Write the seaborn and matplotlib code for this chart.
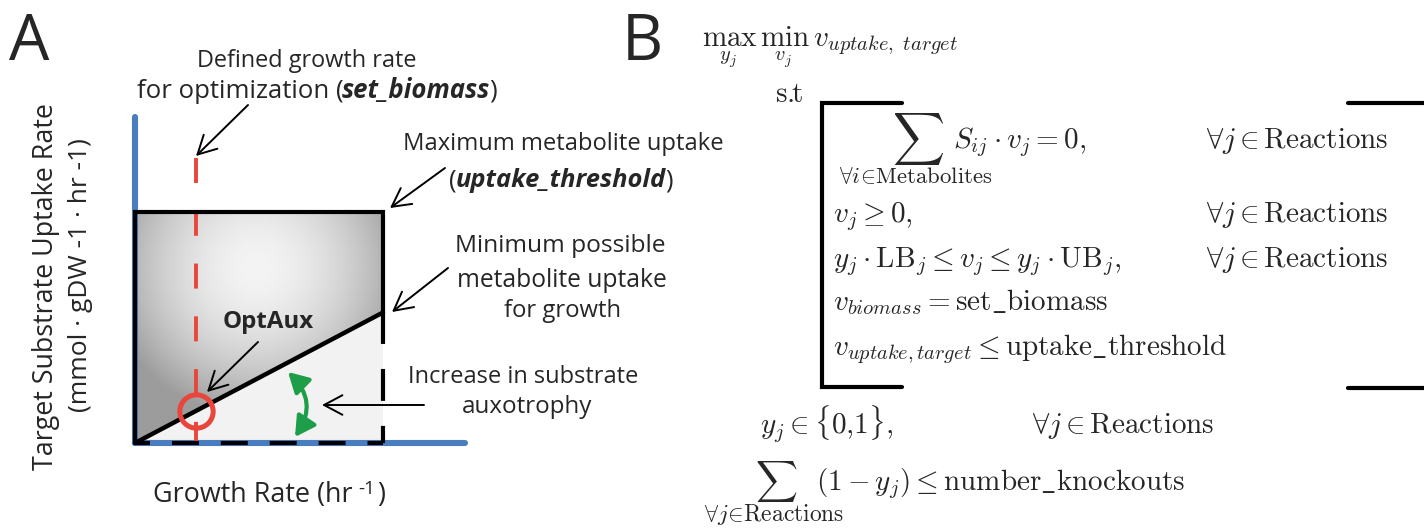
import numpy as np
import matplotlib
matplotlib.use("Agg")
import matplotlib.pyplot as plt
import seaborn as sns
from matplotlib.patches import Polygon

# ---------------- data (normalised units of panel A) ----------------
growth_rate = [0.0, 1.0]        # growth rate range (0 .. maximum growth)
min_uptake = [0.0, 0.565]       # minimum possible metabolite uptake for growth
uptake_threshold = 1.0          # maximum metabolite uptake (uptake_threshold)
set_biomass = 0.245             # defined growth rate for optimization
axis_len_x = 1.33               # drawn length of growth-rate axis
axis_len_y = 1.41               # drawn length of uptake axis
set_line_top = 1.234            # top of the set_biomass guide line

# ---------------- style ----------------
sns.set_theme(style="white")
plt.rcParams["font.family"] = ["Open Sans", "DejaVu Sans"]
plt.rcParams["mathtext.fontset"] = "cm"
plt.rcParams["lines.scale_dashes"] = False

BLUE = "#4a7dbd"
RED = "#e8463c"
GREEN = "#1f9e4a"

W, H = 1424, 529
fig = plt.figure(figsize=(W / 100, H / 100), dpi=100)
fig.patch.set_facecolor("white")
R = fig.canvas.get_renderer()

# panel A axes: data units, placed so the box sits where it does in the figure
PX0, PY0, SX, SY = 135, 443, 248, 231
ax = fig.add_axes([0, 0, 1, 1])
ax.axis("off")

# overlay in pixel units for annotation layout
ov = fig.add_axes([0, 0, 1, 1], facecolor="none")
ov.set_xlim(0, W)
ov.set_ylim(H, 0)
ov.axis("off")

g0, g1 = growth_rate
m0, m1 = min_uptake

# ---- feasible region fills ----
upper = [(g0, m0), (g1, m1), (g1, uptake_threshold), (g0, uptake_threshold)]
lower = [(g0, m0), (g1, 0.0), (g1, m1)]
ax.add_patch(Polygon(lower, closed=True, facecolor="#f2f2f2", edgecolor="none", zorder=1))

xs = np.linspace(g0, g1, 300)
ys = np.linspace(0, uptake_threshold, 300)
X, Y = np.meshgrid(xs, ys)
r = np.hypot((X - 0.49) * SX, (Y - 0.76) * SY)
val = np.clip(0.955 - 0.30 * (r / 140.0) ** 1.8, 0.61, 1.0)
im = ax.imshow(val, extent=[g0, g1, 0, uptake_threshold], origin="lower", cmap="gray",
               vmin=0, vmax=1, aspect="auto", interpolation="bilinear", zorder=1)
clip = Polygon(upper, closed=True, facecolor="none", edgecolor="none", transform=ax.transData)
ax.add_patch(clip)
im.set_clip_path(clip)

# ---- axes (blue) ----
ax.plot([0, 0], [0, axis_len_y], color=BLUE, lw=4.4, solid_capstyle="round", zorder=2)
ax.plot([0, axis_len_x], [0, 0], color=BLUE, lw=4.4, solid_capstyle="round", zorder=2)

# ---- set_biomass guide (red dashed) ----
ax.plot([set_biomass, set_biomass], [set_line_top, 0], color=RED, lw=2.8,
        ls=(0, (18, 20)), zorder=3)

# ---- box ----
ax.plot([g1, g1, g0, g0], [m1, uptake_threshold, uptake_threshold, 0], color="black",
        lw=3.0, solid_joinstyle="miter", zorder=4)
ax.plot([g1, g1], [m1, 0], color="black", lw=3.0, ls=(0, (23, 18)), zorder=4)
ax.plot([g0, g1], [0, 0], color="black", lw=3.0, ls=(8.6, (19.4, 15.8)), zorder=4)

# ---- minimum uptake line ----
sns.lineplot(x=growth_rate, y=min_uptake, ax=ax, color="black", lw=3.2, zorder=5)

# ---- OptAux point ----
opt_y = np.interp(set_biomass, growth_rate, min_uptake)
ax.plot([set_biomass], [opt_y], marker="o", ms=24, mfc="none", mec=RED, mew=3.6, zorder=6)

ax.set_xlim(-PX0 / SX, (W - PX0) / SX)
ax.set_ylim(-(H - PY0) / SY, PY0 / SY)
ax.axis("off")

# ---------------- text helpers ----------------
def fit_text(x, y, s, width, ha="center", va="baseline", rotation=0, **kw):
    t = ov.text(x, y, s, fontsize=20, ha=ha, va=va, rotation=rotation, **kw)
    bb = t.get_window_extent(renderer=R)
    L = bb.height if rotation == 90 else bb.width
    t.set_fontsize(20 * width / L)
    return t


def rich_text(xc, y, parts, width):
    base = 20.0
    ws = []
    for s, kw, sf, gap, rz in parts:
        t = ov.text(0, 0, s, fontsize=base * sf, **kw)
        ws.append(t.get_window_extent(renderer=R).width)
        t.remove()
    total = sum(ws) + sum(p[3] for p in parts)
    sc = width / total
    x = xc - width / 2
    for (s, kw, sf, gap, rz), w in zip(parts, ws):
        x += gap * sc
        ov.text(x, y - rz * sc, s, fontsize=base * sf * sc, ha="left", va="baseline", **kw)
        x += w * sc


N = {}
BI = {"fontweight": "bold", "fontstyle": "italic"}

# ---------------- panel A text ----------------
ov.text(9, 60, "A", fontsize=46, ha="left", va="baseline")
fit_text(307, 67, "Defined growth rate", 219)
rich_text(317, 98, [("for optimization (", N, 1, 0, 0), ("set_biomass", BI, 1, -1.5, 0),
                    (")", N, 1, -0.5, 0)], 360)
fit_text(563, 150, "Maximum metabolite uptake", 320)
rich_text(561, 187, [("(", N, 1, 0, 0), ("uptake_threshold", BI, 1, -1.5, 0),
                     (")", N, 1, -0.5, 0)], 223)
fit_text(560, 252, "Minimum possible", 210)
fit_text(562, 287, "metabolite uptake", 209)
fit_text(563, 317, "for growth", 117)
fit_text(268, 328, "OptAux", 91, fontweight="bold")
fit_text(523, 383, "Increase in substrate", 230)
fit_text(527, 413, "auxotrophy", 130)
rich_text(269, 502, [("Growth Rate (hr", N, 1, 0, 0), ("-1", N, 0.7, 5, 8),
                     (")", N, 1, 2, 0)], 232)
fit_text(46, 287, "Target Substrate Uptake Rate", 367, va="center", rotation=90)
fit_text(81, 275, "(mmol \u00b7 gDW -1 \u00b7 hr -1)", 274, va="center", rotation=90)

# arrows
AP = dict(arrowstyle="->,head_length=0.6,head_width=0.32", lw=1.4, color="black",
          mutation_scale=22, shrinkA=0, shrinkB=0)
for tail, head in [((248, 105), (196, 156)), ((445, 168), (390, 208)),
                   ((448, 268), (392, 312)), ((258, 342), (207, 392)),
                   ((424, 405), (322, 405))]:
    ov.annotate("", xy=head, xytext=tail, arrowprops=AP, zorder=7)

ov.annotate("", xy=(295, 437), xytext=(288, 372),
            arrowprops=dict(arrowstyle="<|-|>,head_length=0.5,head_width=0.28",
                            connectionstyle="arc3,rad=-0.42", lw=3.0, color=GREEN,
                            mutation_scale=24, shrinkA=0, shrinkB=0), zorder=7)

# ---------------- panel B ----------------
ov.text(622, 60, "B", fontsize=46, ha="left", va="baseline")
FS = 21
ov.text(702, 47, r"$\max_{y_j}\,\min_{v_j}\,v_{uptake,\ target}$", fontsize=FS,
        ha="left", va="baseline")
ov.text(775, 102, r"$\mathrm{s}.\!\!\mathrm{t}$", fontsize=FS, ha="left", va="baseline")

# brackets
ov.plot([902, 822, 822, 902], [103, 103, 387, 387], color="black", lw=3.0,
        solid_joinstyle="miter")
ov.plot([1348, W], [103, 103], color="black", lw=3.0)
ov.plot([1348, W], [388, 388], color="black", lw=3.0)

# constraint block
ov.text(918, 139, r"$\sum$", fontsize=26, ha="center", va="center")
fit_text(916, 183, r"$\forall i\!\in\!\mathrm{Metabolites}$", 153)
ov.text(953, 148, r"$S_{ij} \cdot v_j = 0,$", fontsize=FS, ha="left", va="baseline")
ov.text(833, 222, r"$v_j \geq 0,$", fontsize=FS, ha="left", va="baseline")
ov.text(833, 267, r"$y_j \cdot \mathrm{LB}_j \leq v_j \leq y_j \cdot \mathrm{UB}_j,$",
        fontsize=FS, ha="left", va="baseline")
ov.text(833, 310, r"$v_{biomass} = \mathrm{set\_biomass}$", fontsize=FS, ha="left",
        va="baseline")
ov.text(833, 355, r"$v_{uptake,target} \leq \mathrm{uptake\_threshold}$", fontsize=FS,
        ha="left", va="baseline")
for yb in (148, 222, 267):
    ov.text(1206, yb, r"$\forall j \in \mathrm{Reactions}$", fontsize=FS, ha="left",
            va="baseline")

# outer constraints
ov.text(760, 433, r"$y_j \in \{0{,}1\},$", fontsize=FS, ha="left", va="baseline")
ov.text(1032, 433, r"$\forall j \in \mathrm{Reactions}$", fontsize=FS, ha="left",
        va="baseline")
ov.text(776, 481, r"$\sum$", fontsize=21, ha="center", va="center")
fit_text(774, 521, r"$\forall j\!\in\!\mathrm{Reactions}$", 140)
ov.text(816, 490, r"$(1 - y_j) \leq \mathrm{number\_knockouts}$", fontsize=FS,
        ha="left", va="baseline")

fig.savefig("out.png", dpi=100, facecolor="white")
